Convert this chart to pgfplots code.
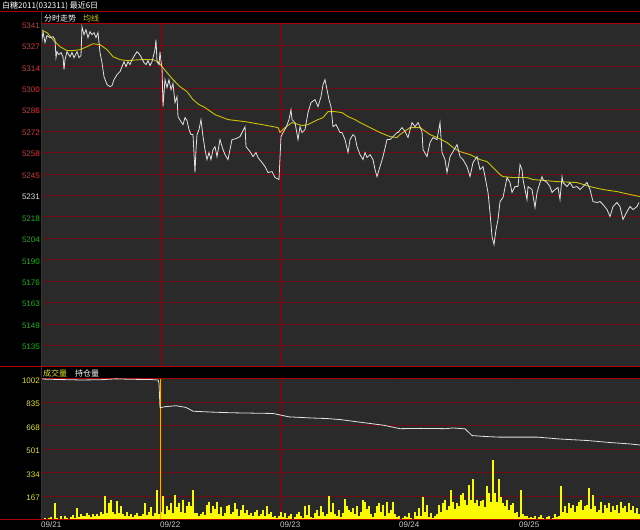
\documentclass[border=0pt]{standalone}
\usepackage{pgfplots}
\pgfplotsset{compat=1.18}
\usepackage{fontspec}
\setmainfont{Liberation Sans}
\newfontfamily\cjk{Noto Sans CJK SC}
\definecolor{panelbg}{RGB}{42,42,42}
\definecolor{gridred}{RGB}{110,10,20}
\definecolor{framered}{RGB}{175,0,0}
\definecolor{tred}{RGB}{215,55,55}
\definecolor{tgreen}{RGB}{30,175,30}
\definecolor{twhite}{RGB}{225,225,225}
\definecolor{tyellow}{RGB}{225,225,40}
\definecolor{avgyellow}{RGB}{205,195,0}
\definecolor{volyellow}{RGB}{250,250,0}
\definecolor{volorange}{RGB}{245,180,0}
\definecolor{xlab}{RGB}{200,200,200}
\begin{document}
\begin{tikzpicture}[x=1bp,y=1bp]
\path[use as bounding box, fill=black] (0,0) rectangle (640,530);
\pgfplotsset{
  every axis/.append style={
    scale only axis, enlargelimits=false, xmin=0, xmax=599,
    axis background/.style={fill=panelbg},
    axis line style={draw=framered, line width=1bp},
    grid=major, major grid style={draw=gridred, line width=1bp},
    major tick length=0pt,
    tick label style={font=\fontsize{8bp}{9bp}\selectfont},
    yticklabel style={anchor=east, inner sep=1bp, yshift=-1.5bp},
    xtick={0,119,239,358,478},
  }
}
% ---------------- price panel ----------------
\begin{axis}[at={(41bp,163bp)}, anchor=south west, width=599bp, height=343bp,
  ymin=5121.16, ymax=5340.84, xticklabels={},
  ytick={5134.89,5148.62,5162.35,5176.08,5189.81,5203.54,5217.27,5231,5244.73,5258.46,5272.19,5285.92,5299.65,5313.38,5327.11,5340.84},
  yticklabels={\textcolor{tgreen}{5135},\textcolor{tgreen}{5149},\textcolor{tgreen}{5163},\textcolor{tgreen}{5176},\textcolor{tgreen}{5190},\textcolor{tgreen}{5204},\textcolor{tgreen}{5218},\textcolor{twhite}{5231},\textcolor{tred}{5245},\textcolor{tred}{5258},\textcolor{tred}{5272},\textcolor{tred}{5286},\textcolor{tred}{5300},\textcolor{tred}{5314},\textcolor{tred}{5327},\textcolor{tred}{5341}},
]
% average line
\addplot[color=avgyellow, line width=0.9bp] coordinates {
(0,5337.0) (6,5335.3) (12,5330.8) (19,5326.3) (26,5323.8) (32,5323.8) (39,5324.4) (46,5326.3) (52,5328.2) (59,5327.6) (66,5324.4) (72,5319.9) (79,5318.0) (86,5317.4) (99,5318.0) (112,5318.0) (117,5316.7) (121,5313.5) (126,5309.7) (132,5305.2) (139,5300.7) (146,5297.5) (152,5292.4) (158,5289.2) (164,5287.3) (174,5282.8) (187,5279.6) (204,5278.3) (221,5276.4) (237,5274.5) (239,5271.3) (244,5274.5) (251,5277.7) (261,5275.8) (267,5276.4) (277,5279.6) (282,5280.9) (287,5284.7) (294,5284.7) (301,5284.1) (307,5281.5) (314,5279.6) (319,5277.7) (329,5274.5) (339,5271.3) (349,5268.7) (356,5268.1) (359,5270.0) (369,5274.5) (379,5274.5) (389,5270.0) (396,5268.1) (406,5264.9) (412,5261.7) (419,5259.1) (429,5257.2) (439,5254.0) (446,5252.7) (452,5248.9) (459,5244.4) (462,5243.1) (472,5242.5) (479,5242.5) (486,5242.5) (492,5241.2) (516,5239.9) (536,5239.3) (549,5236.7) (562,5234.8) (576,5233.5) (589,5231.6) (599,5230.3)
};
% price line
\addplot[color=twhite, line width=0.8bp] coordinates {
(0,5339.1) (1,5330.8) (2,5335.9) (4,5328.9) (6,5333.4) (9,5332.1) (12,5332.7) (14,5330.8) (15,5319.3) (16,5323.1) (18,5321.2) (20,5322.5) (22,5319.9) (23,5311.6) (24,5318.0) (26,5323.1) (29,5319.9) (31,5322.5) (33,5319.3) (36,5323.1) (38,5319.3) (40,5320.6) (41,5339.1) (43,5334.0) (45,5337.2) (47,5332.1) (49,5335.9) (51,5334.0) (53,5335.3) (55,5332.1) (57,5335.3) (59,5322.5) (61,5316.1) (63,5307.1) (66,5302.0) (69,5300.7) (71,5301.4) (73,5305.2) (76,5308.4) (79,5310.3) (81,5313.5) (83,5316.7) (85,5313.5) (87,5316.7) (89,5314.8) (91,5318.0) (94,5321.2) (96,5323.1) (98,5321.8) (100,5319.9) (103,5316.1) (105,5314.8) (107,5317.4) (109,5314.2) (111,5316.7) (114,5324.4) (115,5330.8) (116,5316.7) (118,5314.8)
(119,5323.1) (120,5316.7) (121,5313.5) (122,5287.9) (124,5305.2) (126,5300.1) (128,5305.2) (130,5298.8) (132,5302.6) (134,5290.5) (136,5294.3) (137,5281.5) (140,5278.3) (142,5276.4) (144,5280.9) (146,5279.0) (148,5273.2) (150,5270.0) (152,5270.0) (154,5245.7) (155,5260.4) (156,5270.0) (158,5273.2) (160,5279.6) (162,5268.7) (164,5260.4) (166,5254.0) (168,5258.5) (170,5254.0) (172,5260.4) (174,5262.3) (176,5255.9) (179,5266.8) (182,5260.4) (184,5257.2) (187,5254.0) (191,5266.8) (195,5267.4) (199,5268.7) (204,5275.1) (205,5262.3) (209,5259.1) (212,5255.9) (215,5258.5) (217,5255.3) (221,5252.1) (224,5249.5) (227,5245.7) (231,5246.3) (234,5242.5) (238,5241.2)
(239,5255.3) (240,5268.7) (242,5271.3) (245,5274.5) (248,5279.6) (250,5286.0) (251,5279.6) (254,5277.7) (257,5266.8) (259,5275.1) (261,5271.3) (264,5273.2) (267,5284.1) (270,5290.5) (274,5292.4) (277,5287.9) (280,5294.3) (282,5302.0) (284,5305.2) (286,5298.8) (288,5292.4) (290,5287.9) (292,5275.1) (295,5276.4) (299,5271.3) (301,5271.3) (304,5266.8) (307,5258.5) (309,5266.8) (312,5270.0) (314,5268.7) (316,5262.3) (319,5257.2) (322,5254.0) (324,5258.5) (326,5255.3) (329,5257.2) (332,5254.0) (334,5247.6) (336,5243.1) (339,5249.5) (342,5255.9) (346,5266.8) (349,5266.8) (354,5270.0) (356,5271.3)
(357,5271.3) (361,5274.5) (364,5272.0) (367,5268.1) (371,5277.7) (374,5275.1) (377,5277.7) (381,5271.9) (382,5260.4) (386,5255.9) (389,5264.9) (392,5268.1) (396,5266.8) (399,5277.7) (401,5258.5) (404,5254.0) (406,5245.7) (409,5255.9) (412,5259.1) (416,5263.6) (419,5255.9) (422,5254.0) (426,5249.5) (429,5243.1) (432,5252.1) (436,5255.9) (439,5247.6) (442,5249.5) (444,5243.1) (447,5232.9) (449,5220.1) (451,5204.7) (453,5199.6) (455,5209.2) (457,5215.6) (459,5227.1) (462,5229.7) (466,5242.5) (469,5239.3) (471,5232.9) (474,5236.7) (477,5236.7)
(479,5250.8) (481,5247.6) (482,5241.2) (484,5234.8) (486,5228.4) (487,5236.7) (491,5234.8) (494,5223.3) (496,5232.9) (499,5239.3) (501,5243.1) (502,5241.2) (506,5239.3) (509,5236.7) (511,5232.9) (514,5234.8) (517,5236.1) (519,5228.4) (521,5243.1) (522,5239.3) (526,5236.7) (529,5239.3) (532,5236.1) (536,5236.7) (539,5234.8) (542,5236.7) (546,5239.3) (549,5234.8) (552,5227.1) (556,5226.5) (559,5227.1) (562,5225.2) (566,5222.0) (569,5217.5) (572,5223.9) (576,5226.5) (579,5223.9) (582,5215.6) (586,5220.7) (589,5223.9) (592,5222.0) (596,5223.9) (598,5226.5)
};
\end{axis}
% ---------------- volume panel ----------------
\begin{axis}[at={(41bp,10bp)}, anchor=south west, width=599bp, height=141bp,
  ymin=0, ymax=1002,
  ytick={167,334,501,668,835,1002},
  yticklabels={\textcolor{tyellow}{167},\textcolor{tyellow}{334},\textcolor{tyellow}{501},\textcolor{tyellow}{668},\textcolor{tyellow}{835},\textcolor{tyellow}{1002}},
  xticklabels={\textcolor{xlab}{09/21},\textcolor{xlab}{09/22},\textcolor{xlab}{09/23},\textcolor{xlab}{09/24},\textcolor{xlab}{09/25}},
  xticklabel style={anchor=north west, inner sep=0pt, yshift=-1.5bp},
]
\addplot[ycomb, draw=volyellow, fill=volyellow, mark=none, line width=1.4bp] coordinates {
(0,40) (2,10) (4,15) (6,8) (8,12) (10,20) (12,10) (14,120) (16,15) (18,8) (20,25) (22,10) (24,30) (26,12) (28,8) (30,20) (32,35) (34,15) (36,84) (38,20) (40,45) (42,30) (44,25) (46,50) (48,35) (50,20) (52,40) (54,30) (56,45) (58,25) (60,60) (62,40) (64,170) (66,50) (68,120) (70,144) (72,60) (74,40) (76,132) (78,50) (80,96) (82,45) (84,30) (86,55) (88,25) (90,40) (92,20) (94,35) (96,50) (98,25) (100,30) (102,45) (104,120) (106,35) (108,60) (110,90) (112,30) (114,50) (116,216) (118,40)
(120,60) (122,168) (124,40) (126,96) (128,70) (130,120) (132,50) (134,180) (136,90) (138,120) (140,60) (142,144) (144,50) (146,100) (148,130) (150,96) (152,211) (154,50) (156,48) (158,30) (160,40) (162,60) (164,35) (166,108) (168,130) (170,50) (172,96) (174,80) (176,130) (178,40) (180,90) (182,30) (184,50) (186,96) (188,108) (190,40) (192,60) (194,120) (196,80) (198,30) (200,70) (202,108) (204,50) (206,72) (208,35) (210,48) (212,25) (214,60) (216,72) (218,30) (220,45) (222,72) (224,30) (226,96) (228,40) (230,55) (232,20) (234,30) (236,15) (238,25)
(240,60) (242,20) (244,50) (246,15) (248,30) (250,45) (252,10) (254,20) (256,40) (258,60) (260,25) (262,15) (264,96) (266,35) (268,108) (270,20) (272,15) (274,50) (276,72) (278,30) (280,96) (282,60) (284,25) (286,45) (288,170) (290,60) (292,120) (294,40) (296,30) (298,72) (300,20) (302,50) (304,149) (306,96) (308,70) (310,60) (312,84) (314,40) (316,96) (318,30) (320,60) (322,144) (324,130) (326,80) (328,96) (330,40) (332,20) (334,50) (336,96) (338,120) (340,60) (342,108) (344,30) (346,130) (348,50) (350,70) (352,130) (354,40) (356,20)
(358,25) (360,10) (362,15) (364,30) (366,20) (368,50) (370,15) (372,10) (374,60) (376,25) (378,84) (380,30) (382,166) (384,60) (386,108) (388,20) (390,48) (392,15) (394,25) (396,40) (398,110) (400,60) (402,120) (404,144) (406,70) (408,96) (410,216) (412,130) (414,80) (416,120) (418,96) (420,180) (422,192) (424,144) (426,110) (428,252) (430,144) (432,288) (434,120) (436,144) (438,96) (440,132) (442,144) (444,90) (446,240) (448,192) (450,130) (452,425) (454,192) (456,130) (458,288) (460,160) (462,120) (464,96) (466,144) (468,70) (470,108) (472,120) (474,50) (476,60)
(478,20) (480,216) (482,40) (484,25) (486,30) (488,15) (490,20) (492,12) (494,25) (496,10) (498,20) (500,35) (502,12) (504,8) (506,20) (508,30) (510,10) (512,15) (514,40) (516,20) (518,25) (520,240) (522,60) (524,96) (526,50) (528,120) (530,84) (532,110) (534,60) (536,96) (538,130) (540,144) (542,70) (544,96) (546,110) (548,228) (550,80) (552,180) (554,96) (556,60) (558,72) (560,130) (562,50) (564,108) (566,84) (568,120) (570,60) (572,96) (574,72) (576,108) (578,50) (580,130) (582,84) (584,96) (586,60) (588,120) (590,72) (592,96) (594,50) (596,84) (598,40)
};
\addplot[ycomb, draw=volorange, mark=none, line width=1bp] coordinates {(119,1002)};
% open interest
\addplot[color=twhite, line width=0.8bp] coordinates {
(0,1002) (20,998) (40,995) (60,997) (75,1003) (90,1000) (110,998) (117,995) (118,973) (119,798) (124,805) (135,812) (145,800) (152,773) (170,767) (190,762) (232,757) (240,745) (248,733) (270,725) (286,721) (300,713) (317,697) (330,685) (343,673) (359,649) (380,651) (405,649) (412,654) (424,648) (431,600) (445,593) (458,589) (496,589) (520,575) (546,565) (570,550) (588,541) (599,533)
};
\end{axis}
% frame lines and texts
\draw[framered, line width=1bp] (0,518) -- (640,518);
\draw[framered, line width=1bp] (0,163) -- (640,163);
\draw[framered, line width=1bp] (0,10) -- (640,10);
\draw[framered, line width=1bp] (41,10) -- (41,518);
\node[anchor=west, inner sep=0pt, text=white, font=\fontsize{8bp}{9bp}\selectfont] at (2,524) {\cjk 白糖2011(032311)\ 最近6日};
\node[anchor=west, inner sep=0pt, text=white, font=\fontsize{8bp}{9bp}\selectfont] at (44,512) {\cjk 分时走势};
\node[anchor=west, inner sep=0pt, text=avgyellow, font=\fontsize{8bp}{9bp}\selectfont] at (83,512) {\cjk 均线};
\node[anchor=west, inner sep=0pt, text=tyellow, font=\fontsize{8bp}{9bp}\selectfont] at (43,157) {\cjk 成交量};
\node[anchor=west, inner sep=0pt, text=white, font=\fontsize{8bp}{9bp}\selectfont] at (75,157) {\cjk 持仓量};
\end{tikzpicture}
\end{document}
